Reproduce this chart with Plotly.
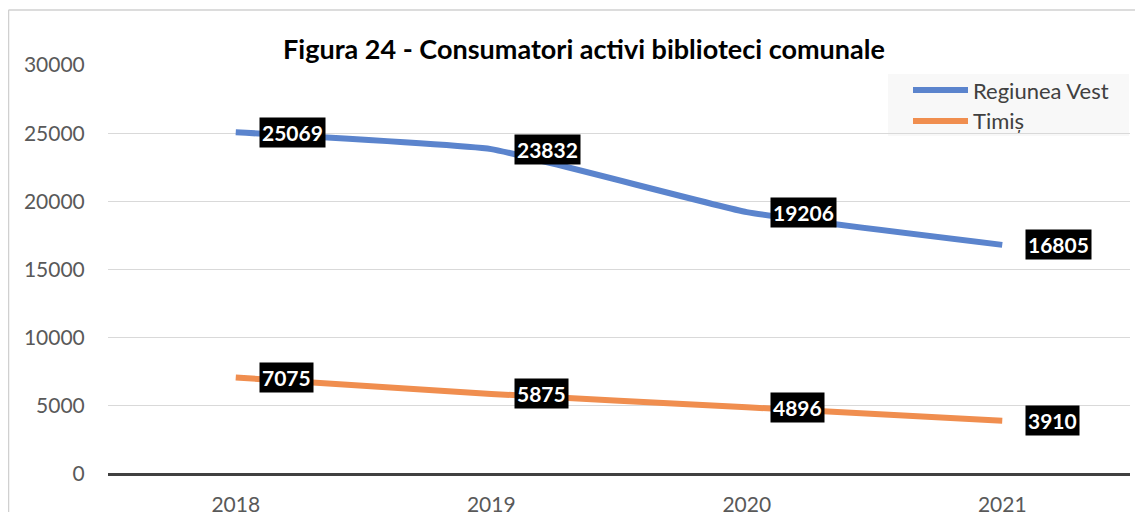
import plotly.graph_objects as go

years = ["2018", "2019", "2020", "2021"]
regiunea_vest = [25069, 23832, 19206, 16805]
timis = [7075, 5875, 4896, 3910]
y_ticks = [0, 5000, 10000, 15000, 20000, 25000, 30000]

FONT = "Lato"
# page body has an 8px margin: figure is sized/offset to compensate
W, H = 1135, 504
L, R, T, B = 100, 13, 57, 38
PW, PH = W - L - R, H - T - B  # 1022 x 409


def px(X):  # window pixel x -> paper
    return (X - 8 - L) / PW


def py(Y):  # window pixel y -> paper
    return (H - B - (Y - 8)) / PH


fig = go.Figure()
series = [("Regiunea Vest", regiunea_vest, "#5b84cd"), ("Timiș", timis, "#f08e4f")]
for name, vals, col in series:
    fig.add_trace(go.Scatter(
        x=years, y=vals, name=name, mode="lines", showlegend=False,
        line=dict(color=col, width=6, shape="spline", smoothing=0.3),
    ))
    for i, yv in enumerate(vals):
        fig.add_annotation(
            x=i, y=yv, text=f"<b>{yv}</b>", showarrow=False,
            xanchor="left", yanchor="middle", xshift=23,
            bgcolor="black", font=dict(color="white", size=21, family=FONT),
            borderpad=2,
        )

# legend (drawn manually to match long line samples)
fig.add_shape(type="rect", xref="paper", yref="paper", x0=px(888), x1=px(1129),
              y0=py(136), y1=py(74), fillcolor="#f8f8f8", line=dict(width=0), layer="below")
for (name, vals, col), Y in zip(series, [90, 121]):
    fig.add_shape(type="line", xref="paper", yref="paper", x0=px(913), x1=px(968),
                  y0=py(Y), y1=py(Y), line=dict(color=col, width=6))
    fig.add_annotation(xref="paper", yref="paper", x=px(971), y=py(Y), text=name,
                       showarrow=False, xanchor="left", yanchor="middle",
                       font=dict(size=22, color="#404040", family=FONT))

fig.update_layout(
    width=W, height=H,
    margin=dict(l=L, r=R, t=T, b=B),
    paper_bgcolor="white", plot_bgcolor="white",
    title=dict(text="<b>Figura 24 - Consumatori activi biblioteci comunale</b>",
               x=(584 - 8) / W, xanchor="center", y=1 - (50 - 8) / H, yanchor="middle",
               font=dict(size=27, color="black", family=FONT)),
    showlegend=False,
)
fig.update_xaxes(type="category", range=[-0.5, 3.5], showgrid=False, showline=False,
                 automargin=False, ticks="outside", ticklen=12, tickcolor="rgba(0,0,0,0)",
                 tickfont=dict(size=21, color="#595959", family=FONT))
fig.update_yaxes(range=[0, 30000], tickvals=y_ticks, tickformat="d", showgrid=True,
                 automargin=False,
                 gridcolor="#d9d9d9", gridwidth=1, zeroline=True, zerolinecolor="#404040",
                 zerolinewidth=3, showline=False, ticks="outside", ticklen=18,
                 tickcolor="rgba(0,0,0,0)",
                 tickfont=dict(size=21, color="#595959", family=FONT))
# outer chart border (left and top edges visible)
fig.add_shape(type="line", xref="paper", yref="paper", x0=px(8.5), x1=px(8.5), y0=-0.2,
              y1=py(10), line=dict(color="#d0d0d0", width=1.5))
fig.add_shape(type="line", xref="paper", yref="paper", x0=px(8.5), x1=1.02, y0=py(10),
              y1=py(10), line=dict(color="#d0d0d0", width=1.5))
fig.write_html("out.html")
